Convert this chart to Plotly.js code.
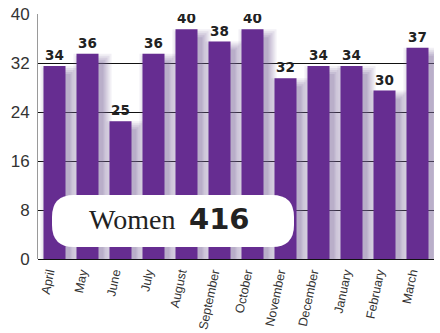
<!DOCTYPE html>
<html>
<head>
<meta charset="utf-8">
<script src="https://cdn.plot.ly/plotly-3.0.1.min.js"></script>
<style>
  html, body { margin: 0; padding: 0; background: #ffffff; }
  #chart { width: 440px; height: 333px; }
</style>
</head>
<body>
<div id="chart"></div>
<script>
// ---- data ----
const months = ["April", "May", "June", "July", "August", "September", "October",
                "November", "December", "January", "February", "March"];
const women = [34, 36, 25, 36, 40, 38, 40, 32, 34, 34, 30, 37];
const totalLabel = "Women";
const totalValue = 416;
const yTickVals = [0, 8, 16, 24, 32, 40];

// ---- style constants ----
const BAR_COLOR = "#662d91";
const PX_PER_CAT = 33;          // pixels per category
const PX_PER_UNIT = 245 / 40;   // pixels per y unit
const BAR_W = 22 / PX_PER_CAT;
const Y2_SHIFT = 2.5;           // bars sit slightly lower than the printed axis

const traces = [];

// invisible trace that keeps the printed axis (y) alive
traces.push({
  type: "scatter",
  x: months,
  y: women,
  mode: "none",
  hoverinfo: "skip",
  showlegend: false
});

// soft drop shadows (layers fake a blur)
const shadowLayers = [
  {e: 8, a: 0.10},
  {e: 6, a: 0.12},
  {e: 4, a: 0.14},
  {e: 2, a: 0.16},
  {e: 0, a: 0.18}
];
shadowLayers.forEach(l => {
  const dx = 5, dy = 8;
  const base = Y2_SHIFT - (dy + l.e) / PX_PER_UNIT;
  traces.push({
    type: "bar",
    x: months,
    y: women.map(v => (v - (dy - l.e) / PX_PER_UNIT) - base),
    base: base,
    yaxis: "y2",
    width: (22 + 2 * l.e) / PX_PER_CAT,
    offset: -BAR_W / 2 + (dx - l.e) / PX_PER_CAT,
    marker: {color: `rgba(125,105,155,${l.a})`, line: {width: 0}},
    hoverinfo: "skip",
    cliponaxis: false,
    showlegend: false
  });
});

// main bars
traces.push({
  type: "bar",
  x: months,
  y: women,
  yaxis: "y2",
  width: BAR_W,
  offset: -BAR_W / 2,
  marker: {color: BAR_COLOR, line: {width: 0}},
  text: women.map(String),
  textposition: "outside",
  constraintext: "none",
  textfont: {family: "DejaVu Sans", size: 13.5, color: "#222222", weight: "bold"},
  cliponaxis: true,
  showlegend: false
});

// rounded label box (paper coords)
const L = 38, T = 14, PW = 396, PH = 245;
function px(x) { return (x - L) / PW; }
function py(y) { return (T + PH - y) / PH; }
const bx0 = px(52), bx1 = px(294), by0 = py(247), by1 = py(195);
const rx = 22 / PW, ry = 22 / PH;
const boxPath =
  `M ${bx0 + rx},${by0} L ${bx1 - rx},${by0} Q ${bx1},${by0} ${bx1},${by0 + ry} ` +
  `L ${bx1},${by1 - ry} Q ${bx1},${by1} ${bx1 - rx},${by1} ` +
  `L ${bx0 + rx},${by1} Q ${bx0},${by1} ${bx0},${by1 - ry} ` +
  `L ${bx0},${by0 + ry} Q ${bx0},${by0} ${bx0 + rx},${by0} Z`;

const layout = {
  width: 440,
  height: 333,
  margin: {l: L, r: 6, t: T, b: 74, pad: 0},
  paper_bgcolor: "#ffffff",
  plot_bgcolor: "#ffffff",
  barmode: "overlay",
  showlegend: false,
  xaxis: {
    type: "category",
    range: [-0.5, 11.5],
    showgrid: false,
    showline: false,
    zeroline: false,
    ticks: "",
    tickangle: -78,
    ticklabelshift: -6,
    ticklabelstandoff: 3,
    tickfont: {family: "Liberation Sans", size: 12.5, color: "#333333"},
    fixedrange: true
  },
  yaxis: {
    range: [0, 40],
    tickvals: yTickVals,
    ticktext: yTickVals.map(String),
    showgrid: true,
    gridcolor: "#111111",
    gridwidth: 1,
    zeroline: true,
    zerolinecolor: "#111111",
    zerolinewidth: 1,
    showline: true,
    linecolor: "#9a9a9a",
    linewidth: 1,
    ticks: "",
    ticklabelstandoff: 4,
    tickfont: {family: "Liberation Sans", size: 17, color: "#333333"},
    fixedrange: true
  },
  yaxis2: {
    overlaying: "y",
    range: [Y2_SHIFT, 40 + Y2_SHIFT],
    visible: false,
    showgrid: false,
    zeroline: false,
    fixedrange: true
  },
  shapes: [{
    type: "path",
    xref: "paper",
    yref: "paper",
    path: boxPath,
    fillcolor: "#ffffff",
    line: {width: 0},
    layer: "above"
  }],
  annotations: [
    {
      xref: "paper", yref: "paper",
      x: px(177), y: py(219),
      xanchor: "right", yanchor: "middle",
      text: totalLabel,
      showarrow: false,
      font: {family: "Liberation Serif", size: 28, color: "#222222"}
    },
    {
      xref: "paper", yref: "paper",
      x: px(187), y: py(219),
      xanchor: "left", yanchor: "middle",
      text: String(totalValue),
      showarrow: false,
      font: {family: "DejaVu Sans", size: 29, color: "#222222", weight: "bold"}
    }
  ]
};

Plotly.newPlot("chart", traces, layout, {staticPlot: true, displayModeBar: false});
</script>
</body>
</html>
